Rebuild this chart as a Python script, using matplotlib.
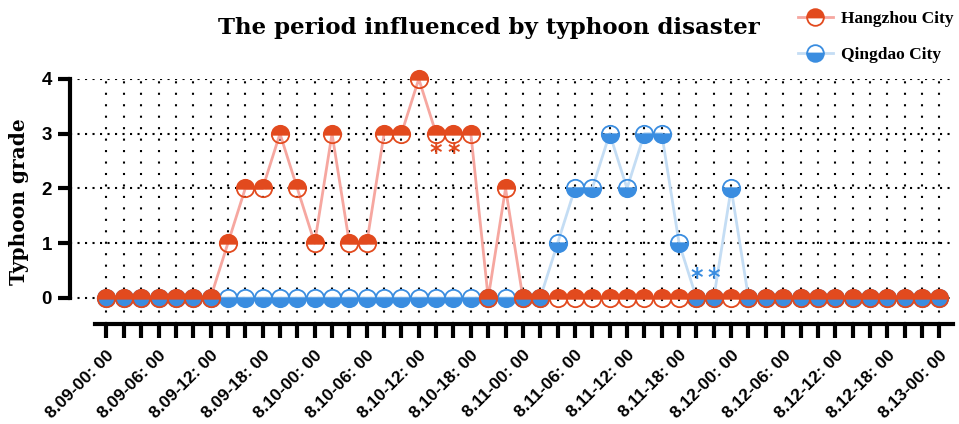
import matplotlib
matplotlib.use("Agg")
import matplotlib.pyplot as plt
from matplotlib.lines import Line2D

# ---- data ----
hangzhou = [0, 0, 0, 0, 0, 0, 0, 1, 2, 2, 3, 2, 1, 3, 1, 1, 3, 3, 4, 3, 3, 3, 0, 2, 0,
            0, 0, 0, 0, 0, 0, 0, 0, 0, 0, 0, 0, 0, 0, 0, 0, 0, 0, 0, 0, 0, 0, 0, 0]
qingdao = [0, 0, 0, 0, 0, 0, 0, 0, 0, 0, 0, 0, 0, 0, 0, 0, 0, 0, 0, 0, 0, 0, 0, 0, 0,
           0, 1, 2, 2, 3, 2, 3, 3, 1, 0, 0, 2, 0, 0, 0, 0, 0, 0, 0, 0, 0, 0, 0, 0]
tick_labels = ["8.09-00: 00", "8.09-06: 00", "8.09-12: 00", "8.09-18: 00",
               "8.10-00: 00", "8.10-06: 00", "8.10-12: 00", "8.10-18: 00",
               "8.11-00: 00", "8.11-06: 00", "8.11-12: 00", "8.11-18: 00",
               "8.12-00: 00", "8.12-06: 00", "8.12-12: 00", "8.12-18: 00",
               "8.13-00: 00"]
hz_star_idx = [19, 20]
qd_star_idx = [34, 35]

RED = "#e24a1e"
BLUE = "#3a8de0"
RED_LINE = "#f6a7a0"
BLUE_LINE = "#c4ddf4"

fig = plt.figure(figsize=(9.59, 4.24), dpi=100)
ax = fig.add_axes([0.073, 0.236, 0.921, 0.578])

x = list(range(len(hangzhou)))

ax.plot(x, qingdao, color=BLUE_LINE, lw=2, zorder=3)
ax.plot(x, hangzhou, color=RED_LINE, lw=2, zorder=3)
ax.plot(x, qingdao, ls="none", marker="o", ms=12.5, fillstyle="bottom",
        markerfacecolor=BLUE, markerfacecoloralt="none", markeredgecolor=BLUE,
        markeredgewidth=1.3, zorder=4, clip_on=False)
ax.plot(x, hangzhou, ls="none", marker="o", ms=12.5, fillstyle="top",
        markerfacecolor=RED, markerfacecoloralt="none", markeredgecolor=RED,
        markeredgewidth=1.3, zorder=5, clip_on=False)

for i in hz_star_idx:
    ax.annotate("*", (x[i], hangzhou[i]), xytext=(0, -14), textcoords="offset points",
                ha="center", va="center", color=RED, fontsize=17, fontweight="bold")
for i in qd_star_idx:
    ax.annotate("*", (x[i], qingdao[i]), xytext=(0, 14), textcoords="offset points",
                ha="center", va="center", color=BLUE, fontsize=17, fontweight="bold")

# grid
for xi in x:
    ax.axvline(xi, color="black", lw=1.5, ls=(0, (1, 4.5)), zorder=1)
for yi in range(5):
    ax.axhline(yi, color="black", lw=1.5, ls=(0, (1, 2.6)), zorder=1)

ax.set_xlim(-2.1, 48.8)
ax.set_ylim(-0.475, 4)

for s in ["top", "right"]:
    ax.spines[s].set_visible(False)
ax.spines["left"].set_linewidth(3)
ax.spines["bottom"].set_linewidth(3)
ax.spines["left"].set_bounds(0, 4)
ax.spines["bottom"].set_bounds(-0.65, 48.8)

ax.set_yticks([0, 1, 2, 3, 4])
ax.set_yticklabels(["0", "1", "2", "3", "4"], fontfamily="Liberation Sans",
                   fontweight="bold", fontsize=13.5)
ax.tick_params(axis="y", length=9, width=3, pad=4)

ax.set_xticks(x)
labels = []
for i in x:
    labels.append(tick_labels[i // 3] if i % 3 == 0 else "")
ax.set_xticklabels(labels, rotation=45, ha="right", rotation_mode="anchor",
                   fontfamily="Liberation Sans", fontweight="bold", fontsize=12.5)
ax.tick_params(axis="x", length=10, width=3, pad=7)

ax.set_ylabel("Typhoon grade", fontfamily="DejaVu Serif", fontweight="bold",
              fontsize=14.5, labelpad=9)

fig.text(0.51, 0.935, "The period influenced by typhoon disaster",
         fontfamily="DejaVu Serif", fontweight="bold", fontsize=16.5,
         ha="center", va="center")

handles = [
    Line2D([], [], color=RED_LINE, lw=2, marker="o", ms=12, fillstyle="top",
           markerfacecolor=RED, markerfacecoloralt="white", markeredgecolor=RED,
           markeredgewidth=1.3),
    Line2D([], [], color=BLUE_LINE, lw=2, marker="o", ms=12, fillstyle="bottom",
           markerfacecolor=BLUE, markerfacecoloralt="white", markeredgecolor=BLUE,
           markeredgewidth=1.3),
]
fig.legend(handles, ["Hangzhou City", "Qingdao City"], loc="upper left",
           bbox_to_anchor=(0.832, 0.975), frameon=False, borderpad=0, borderaxespad=0,
           prop={"family": "Liberation Serif", "weight": "bold", "size": 12.5},
           handlelength=2.0, labelspacing=1.15, handletextpad=0.5)

fig.savefig("out.png", dpi=100)
